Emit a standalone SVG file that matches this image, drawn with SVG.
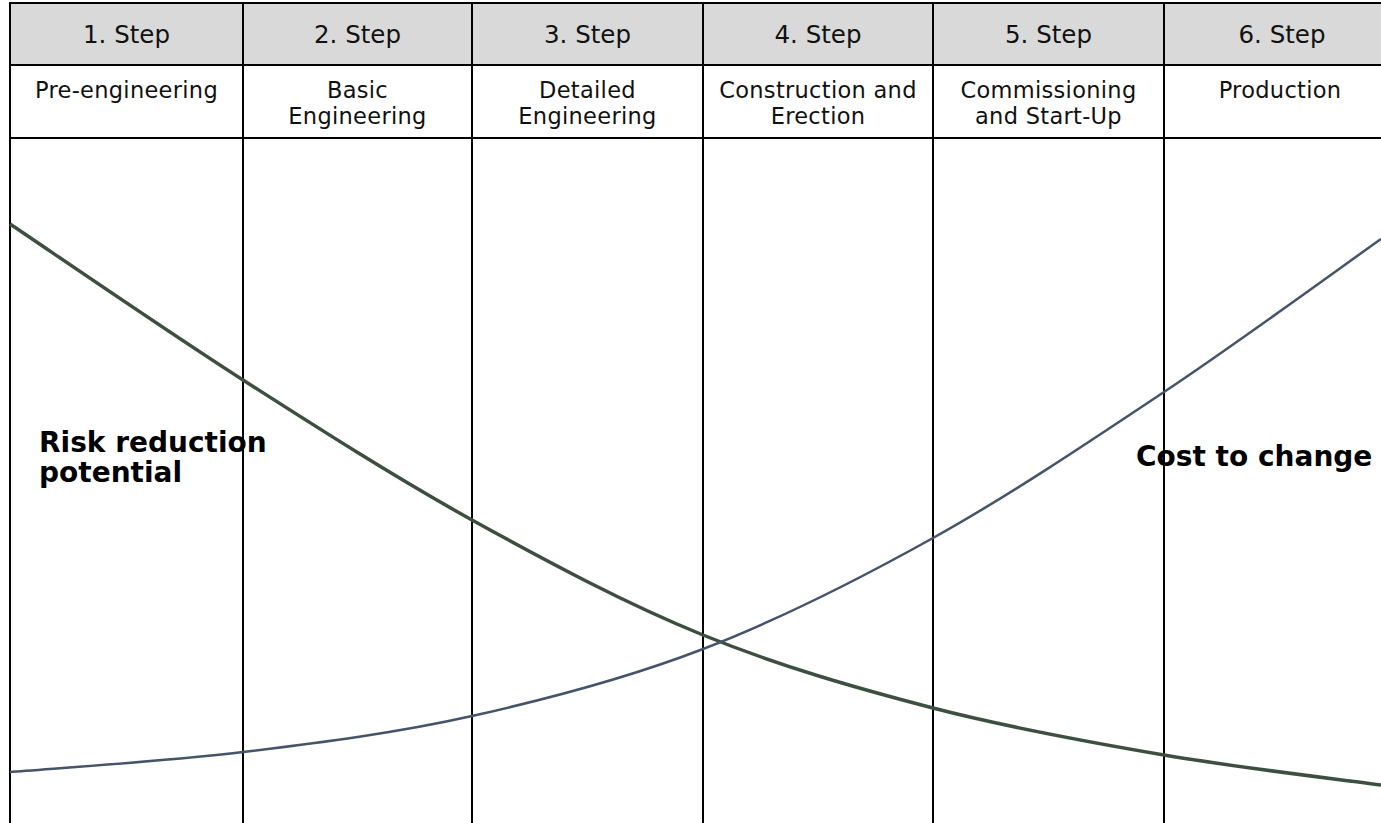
<svg xmlns="http://www.w3.org/2000/svg" width="1381" height="823" viewBox="0 0 1381 823">
<style>
.grid{stroke:#000;stroke-width:2;fill:none}
.hdr{fill:#d9d9d9;stroke:#000;stroke-width:2}
.cell{fill:#fff;stroke:#000;stroke-width:2}
.ht{font-family:"DejaVu Sans",Verdana,sans-serif;font-size:24.5px;fill:#111;text-anchor:middle}
.st{font-family:"DejaVu Sans",Verdana,sans-serif;font-size:22.5px;letter-spacing:0.3px;fill:#111;text-anchor:middle}
.lbl{font-family:"DejaVu Sans",Verdana,sans-serif;font-size:28px;font-weight:bold;fill:#000}
.risk{fill:none;stroke:#3d5040;stroke-width:3.5}
.cost{fill:none;stroke:#44546a;stroke-width:2.5}
</style>
<rect width="1381" height="823" fill="#fff"/>
<g id="columns">
<g id="col1">
<rect class="hdr" x="10" y="3" width="233" height="62"/>
<rect class="cell" x="10" y="65" width="233" height="73"/>
<text class="ht" x="126.5" y="43">1. Step</text>
<text class="st" x="126.5" y="98">Pre-engineering</text>
</g>
<g id="col2">
<rect class="hdr" x="243" y="3" width="229" height="62"/>
<rect class="cell" x="243" y="65" width="229" height="73"/>
<text class="ht" x="357.5" y="43">2. Step</text>
<text class="st" x="357.5" y="98">Basic</text>
<text class="st" x="357.5" y="124">Engineering</text>
</g>
<g id="col3">
<rect class="hdr" x="472" y="3" width="231" height="62"/>
<rect class="cell" x="472" y="65" width="231" height="73"/>
<text class="ht" x="587.5" y="43">3. Step</text>
<text class="st" x="587.5" y="98">Detailed</text>
<text class="st" x="587.5" y="124">Engineering</text>
</g>
<g id="col4">
<rect class="hdr" x="703" y="3" width="230" height="62"/>
<rect class="cell" x="703" y="65" width="230" height="73"/>
<text class="ht" x="818" y="43">4. Step</text>
<text class="st" x="818" y="98">Construction and</text>
<text class="st" x="818" y="124">Erection</text>
</g>
<g id="col5">
<rect class="hdr" x="933" y="3" width="231" height="62"/>
<rect class="cell" x="933" y="65" width="231" height="73"/>
<text class="ht" x="1048.5" y="43">5. Step</text>
<text class="st" x="1048.5" y="98">Commissioning</text>
<text class="st" x="1048.5" y="124">and Start-Up</text>
</g>
<g id="col6">
<rect class="hdr" x="1164" y="3" width="240" height="62"/>
<rect class="cell" x="1164" y="65" width="240" height="73"/>
<text class="ht" x="1282" y="43">6. Step</text>
<text class="st" x="1280" y="98">Production</text>
</g>
</g>
<g id="gridlines">
<line class="grid" x1="10" y1="138" x2="10" y2="823"/>
<line class="grid" x1="243" y1="138" x2="243" y2="823"/>
<line class="grid" x1="472" y1="138" x2="472" y2="823"/>
<line class="grid" x1="703" y1="138" x2="703" y2="823"/>
<line class="grid" x1="933" y1="138" x2="933" y2="823"/>
<line class="grid" x1="1164" y1="138" x2="1164" y2="823"/>
</g>
<g id="connectors">
<path id="risk-curve" class="risk" d="M10,224 C48.8,250 166,330.7 243,380 C320,429.3 395.3,477.5 472,520 C548.7,562.5 626.2,603.7 703,635 C779.8,666.3 856.2,688 933,708 C1009.8,728 1089.3,742.2 1164,755 C1238.7,767.8 1344.8,780 1381,785"/>
<path id="cost-curve" class="cost" d="M10,772 C48.8,768.7 166,761.3 243,752 C320,742.7 395.3,733.2 472,716 C548.7,698.8 626.2,678.7 703,649 C779.8,619.3 856.2,580.8 933,538 C1009.8,495.2 1089.3,441.8 1164,392 C1238.7,342.2 1344.8,264.5 1381,239"/>
</g>
<g id="label-risk">
<text class="lbl" x="39" y="452">Risk reduction</text>
<text class="lbl" x="39" y="482">potential</text>
</g>
<g id="label-cost">
<text class="lbl" x="1136" y="466">Cost to change</text>
</g>
</svg>
